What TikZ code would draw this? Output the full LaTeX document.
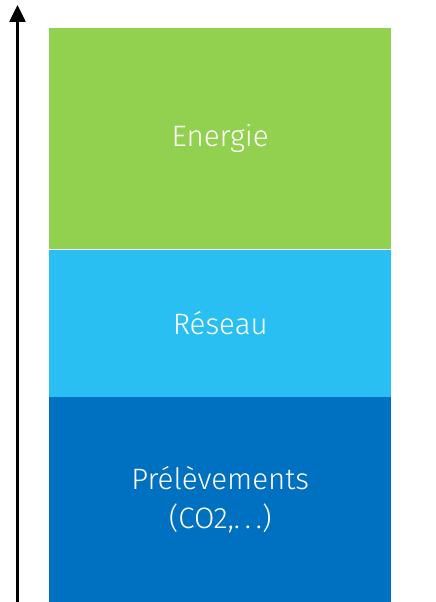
\documentclass[tikz,border=0pt]{standalone}
\usepackage{fontspec}
\setmainfont{Fira Sans Light}
\usepackage{tikz}
\usetikzlibrary{positioning, arrows.meta}

\definecolor{vert}{RGB}{146,208,80}
\definecolor{bleuclair}{RGB}{41,191,242}
\definecolor{bleufonce}{RGB}{0,112,192}

\begin{document}
\begin{tikzpicture}[x=1pt,y=1pt,>={Triangle[width=16pt,length=17pt]},node distance=0pt]
\tikzstyle{couche}=[draw=none,minimum width=342pt,inner sep=0pt,text=white,align=center,font=\fontsize{29.5}{39}\selectfont]
\useasboundingbox (0,0) rectangle (436,-602);
\node[couche,fill=vert,minimum height=221pt,anchor=north west] (energie) at (49,-28) {Energie};
\node[couche,fill=bleuclair,minimum height=147pt] (reseau) [below=of energie] {Réseau};
\node[couche,fill=bleufonce,minimum height=206pt] (prelev) [below=of reseau] {Prélèvements\\(CO2,.\,.\,.)};

\coordinate (bas) at (17.5,-602);
\coordinate (haut) at (17.5,-5);
\draw[->,line width=2.6pt] (bas) -- (haut);
\end{tikzpicture}
\end{document}
